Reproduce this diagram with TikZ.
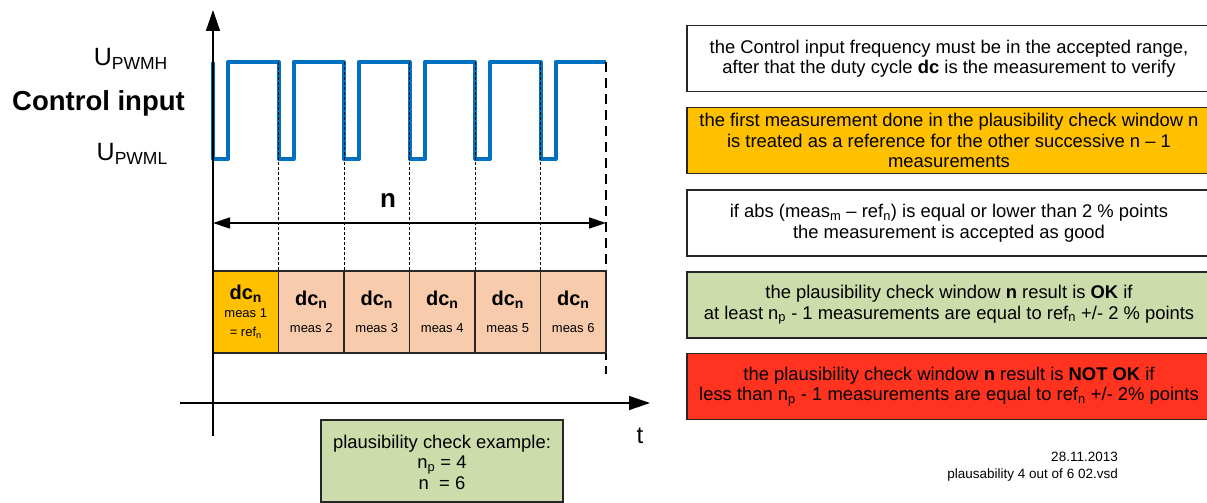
\documentclass[tikz,border=0pt]{standalone}
\usepackage{fontspec}
\setmainfont{Liberation Sans}
\usetikzlibrary{arrows.meta}
\definecolor{pwmblue}{HTML}{0070C0}
\definecolor{refyellow}{HTML}{FFC000}
\definecolor{measpeach}{HTML}{F8CBAD}
\definecolor{okgreen}{HTML}{CDDCAB}
\definecolor{nokred}{HTML}{FF3320}
\def\fs#1#2{\fontsize{#1}{#2}\selectfont}
\def\dcn{{\fs{20}{22}\bfseries dc\textsubscript{n}}}

\begin{document}
\begin{tikzpicture}[x=1pt, y=-1pt,
		infobox/.style={draw=black!85, line width=1.3pt, minimum width=524pt, minimum height=66pt, inner sep=0pt, align=center, font=\fs{18.4}{20.5}},
		measbox/.style={draw=black!85, line width=1.2pt, fill=measpeach, minimum width=65.5pt, minimum height=82pt, inner sep=0pt, align=center, font=\fs{13}{19}},
		thindash/.style={black, line width=0.8pt, dash pattern=on 3pt off 2pt},
		thickdash/.style={black, line width=2.4pt, dash pattern=on 10pt off 6pt},
		axis/.style={black, line width=1.4pt, -{Triangle[length=21pt, width=14pt]}}]
			\useasboundingbox (0, 0) rectangle (1207, 503);
			%%%%% LEFT LABELS %%%%%
			
			\node[anchor=east, inner sep=0pt, font=\fs{25}{27}] (uhigh) at (168, 59) {U\textsubscript{PWMH}};
			\node[anchor=east, inner sep=0pt, font=\fs{27.5}{29}\bfseries] (ctrl) at (185, 103) {Control input};
			\node[anchor=east, inner sep=0pt, font=\fs{25}{27}] (ulow) at (168, 154) {U\textsubscript{PWML}};
			
			%%%%% PWM SIGNAL %%%%%
			
			\draw[pwmblue, line width=4pt, line join=round] (213, 62) -- (213, 159) -- (228, 159) -- (228, 62)
				-- (278.5, 62) -- (278.5, 159) -- (293.5, 159) -- (293.5, 62)
				-- (344, 62) -- (344, 159) -- (359, 159) -- (359, 62)
				-- (409.5, 62) -- (409.5, 159) -- (424.5, 159) -- (424.5, 62)
				-- (475, 62) -- (475, 159) -- (490, 159) -- (490, 62)
				-- (540.5, 62) -- (540.5, 159) -- (555.5, 159) -- (555.5, 62) -- (606, 62);
			
			\draw[thindash] (278.5, 62) -- (278.5, 271);
			\draw[thindash] (344, 62) -- (344, 271);
			\draw[thindash] (409.5, 62) -- (409.5, 271);
			\draw[thindash] (475, 62) -- (475, 271);
			\draw[thindash] (540.5, 62) -- (540.5, 271);
			\draw[thickdash] (213, 62) -- (213, 374);
			\draw[thickdash] (606, 62) -- (606, 374);
			
			%%%%% WINDOW n %%%%%
			
			\coordinate (winleft) at (213, 223);
			\coordinate (winright) at (606, 223);
			\draw[line width=1.4pt, {Triangle[length=17pt, width=11pt]}-{Triangle[length=17pt, width=11pt]}] (winleft) -- (winright);
			\node[font=\fs{26}{28}\bfseries] (nlabel) at (388, 200) {n};
			
			\node[measbox, fill=refyellow] (meas1) at (245.75, 312) {\dcn\\[-1pt]meas 1\\= ref\textsubscript{n}};
			\node[measbox] (meas2) at (311.25, 312) {\dcn\\[8pt]meas 2};
			\node[measbox] (meas3) at (376.75, 312) {\dcn\\[8pt]meas 3};
			\node[measbox] (meas4) at (442.25, 312) {\dcn\\[8pt]meas 4};
			\node[measbox] (meas5) at (507.75, 312) {\dcn\\[8pt]meas 5};
			\node[measbox] (meas6) at (573.25, 312) {\dcn\\[8pt]meas 6};
			
			%%%%% AXES %%%%%
			
			\coordinate (ybot) at (213, 436);
			\coordinate (ytop) at (213, 10);
			\coordinate (xleft) at (180, 403);
			\coordinate (xright) at (650, 403);
			\draw[axis] (ybot) -- (ytop);
			\draw[axis] (xleft) -- (xright);
			\node[font=\fs{24}{26}] (tlabel) at (640, 436) {t};
			
			%%%%% EXAMPLE BOX %%%%%
			
			\draw[draw=black!85, line width=1.2pt, fill=okgreen] (321, 420) rectangle (563, 502);
			\node[align=center, font=\fs{18.4}{20.5}] (example) at (442, 462) {plausibility check example:\\n\textsubscript{p} = 4\\n\ \ = 6};
			
			%%%%% RULES %%%%%
			
			\node[infobox] (rangebox) at (949, 58.5) {the Control input frequency must be in the accepted range,\\after that the duty cycle \textbf{dc} is the measurement to verify};
			\node[infobox, fill=refyellow] (refbox) at (949, 140.5) {the first measurement done in the plausibility check window n\\is treated as a reference for the other successive n – 1\\measurements};
			\node[infobox] (goodbox) at (949, 223) {if abs (meas\textsubscript{m} – ref\textsubscript{n}) is equal or lower than 2 \% points\\the measurement is accepted as good};
			\node[infobox, fill=okgreen] (okbox) at (949, 305) {the plausibility check window \textbf{n} result is \textbf{OK} if\\at least n\textsubscript{p} - 1 measurements are equal to ref\textsubscript{n} +/- 2 \% points};
			\node[infobox, fill=nokred] (notokbox) at (949, 386.5) {the plausibility check window \textbf{n} result is \textbf{NOT OK} if\\less than n\textsubscript{p} - 1 measurements are equal to ref\textsubscript{n} +/- 2\% points};
			
			\node[anchor=east, align=right, inner sep=0pt, font=\fs{13.5}{17}] (filename) at (1118, 467) {28.11.2013\\plausability 4 out of 6 02.vsd};
			
		\end{tikzpicture}
\end{document}
